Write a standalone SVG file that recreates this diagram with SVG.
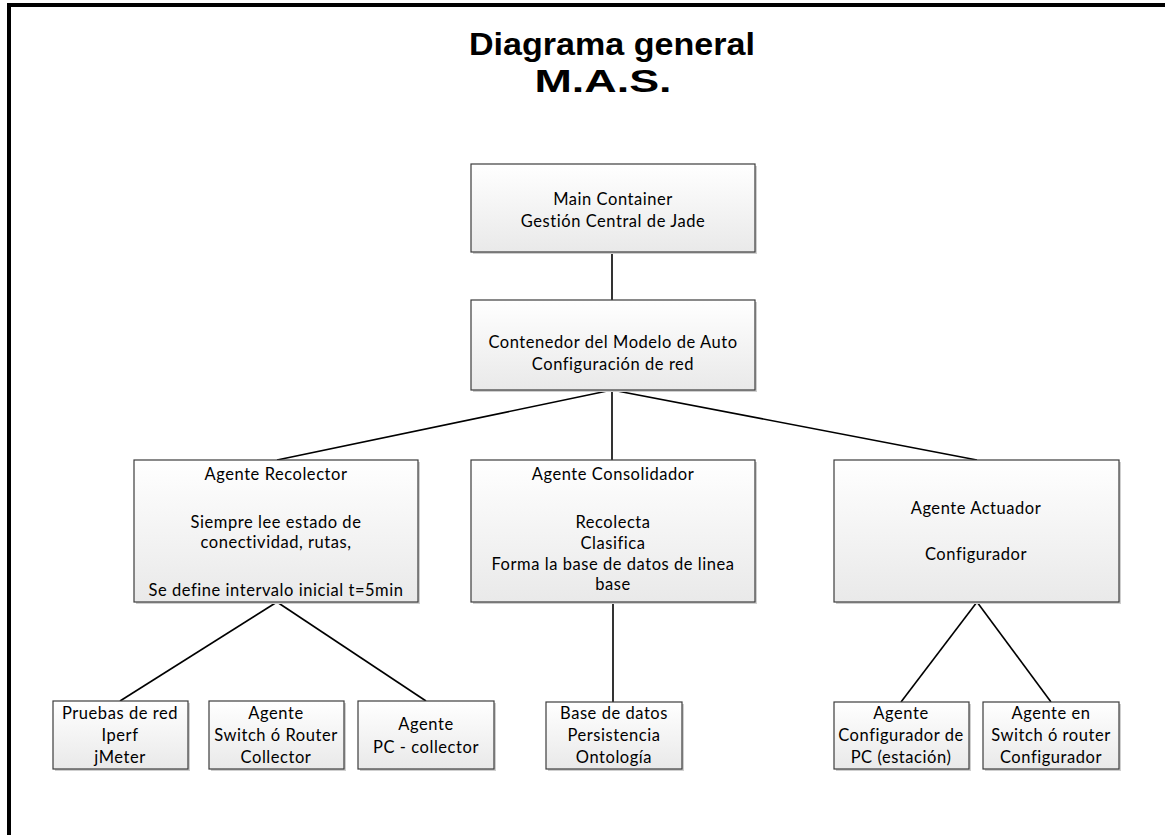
<svg xmlns="http://www.w3.org/2000/svg" width="1165" height="835" viewBox="0 0 1165 835">
  <defs>
    <linearGradient id="boxFill" x1="0" y1="0" x2="0" y2="1">
      <stop offset="0" stop-color="#ffffff"/>
      <stop offset="1" stop-color="#e9e9e9"/>
    </linearGradient>
    <style>
      .frame { fill: none; stroke: #000; stroke-width: 4; }
      .box { fill: url(#boxFill); stroke: #3c3c3c; stroke-width: 1.2; }
      .shadow { fill: #cfcfcf; }
      .link { stroke: #000; stroke-width: 1.6; fill: none; }
      .title { font-family: "Liberation Sans", Arial, sans-serif; font-weight: bold; font-size: 32px; fill: #000; text-anchor: middle; }
      .lbl { font-family: Lato, "Liberation Sans", sans-serif; font-size: 16.5px; letter-spacing: 0.55px; fill: #000; text-anchor: middle; }
    </style>
  </defs>

  <rect width="1165" height="835" fill="#fff"/>
  <!-- page frame (continues past the right and bottom edges) -->
  <rect class="frame" x="9" y="5" width="1200" height="900"/>

  <!-- title -->
  <g id="title">
    <text class="title" x="612" y="55" textLength="286" lengthAdjust="spacingAndGlyphs">Diagrama general</text>
    <text class="title" x="603" y="92" textLength="137" lengthAdjust="spacingAndGlyphs">M.A.S.</text>
  </g>

  <!-- connectors -->
  <g id="connectors">
    <line class="link" x1="612" y1="252" x2="612" y2="300"/>
    <line class="link" x1="612" y1="390" x2="277" y2="460"/>
    <line class="link" x1="612" y1="390" x2="612" y2="460"/>
    <line class="link" x1="612" y1="390" x2="977" y2="460"/>
    <line class="link" x1="277" y1="602" x2="120" y2="701"/>
    <line class="link" x1="277" y1="602" x2="426" y2="701"/>
    <line class="link" x1="613" y1="602" x2="613" y2="702"/>
    <line class="link" x1="977" y1="602" x2="901" y2="702"/>
    <line class="link" x1="977" y1="602" x2="1051" y2="702"/>
  </g>

  <g id="main-container">
    <rect class="shadow" x="473" y="166" width="284" height="88"/>
    <rect class="box" x="471" y="164" width="284" height="88"/>
    <text class="lbl" x="613" y="205">Main Container</text>
    <text class="lbl" x="613" y="227">Gestión Central de Jade</text>
  </g>

  <g id="contenedor-modelo">
    <rect class="shadow" x="473" y="302" width="284" height="90"/>
    <rect class="box" x="471" y="300" width="284" height="90"/>
    <text class="lbl" x="613" y="348">Contenedor del Modelo de Auto</text>
    <text class="lbl" x="613" y="370">Configuración de red</text>
  </g>

  <g id="agente-recolector">
    <rect class="shadow" x="136" y="462" width="284" height="142"/>
    <rect class="box" x="134" y="460" width="284" height="142"/>
    <text class="lbl" x="276" y="480">Agente Recolector</text>
    <text class="lbl" x="276" y="528">Siempre lee estado de</text>
    <text class="lbl" x="276" y="548">conectividad, rutas,</text>
    <text class="lbl" x="276" y="596">Se define intervalo inicial t=5min</text>
  </g>

  <g id="agente-consolidador">
    <rect class="shadow" x="473" y="462" width="284" height="142"/>
    <rect class="box" x="471" y="460" width="284" height="142"/>
    <text class="lbl" x="613" y="480">Agente Consolidador</text>
    <text class="lbl" x="613" y="528">Recolecta</text>
    <text class="lbl" x="613" y="549">Clasifica</text>
    <text class="lbl" x="613" y="570">Forma la base de datos de linea</text>
    <text class="lbl" x="613" y="590">base</text>
  </g>

  <g id="agente-actuador">
    <rect class="shadow" x="836" y="462" width="285" height="142"/>
    <rect class="box" x="834" y="460" width="285" height="142"/>
    <text class="lbl" x="976" y="514">Agente Actuador</text>
    <text class="lbl" x="976" y="560">Configurador</text>
  </g>

  <g id="pruebas-red">
    <rect class="shadow" x="55" y="703" width="135" height="68"/>
    <rect class="box" x="53" y="701" width="135" height="68"/>
    <text class="lbl" x="120" y="719">Pruebas de red</text>
    <text class="lbl" x="120" y="741">Iperf</text>
    <text class="lbl" x="120" y="763">jMeter</text>
  </g>

  <g id="agente-switch-collector">
    <rect class="shadow" x="211" y="703" width="135" height="68"/>
    <rect class="box" x="209" y="701" width="135" height="68"/>
    <text class="lbl" x="276" y="719">Agente</text>
    <text class="lbl" x="276" y="741">Switch ó Router</text>
    <text class="lbl" x="276" y="763">Collector</text>
  </g>

  <g id="agente-pc-collector">
    <rect class="shadow" x="360" y="703" width="136" height="68"/>
    <rect class="box" x="358" y="701" width="136" height="68"/>
    <text class="lbl" x="426" y="730">Agente</text>
    <text class="lbl" x="426" y="753">PC - collector</text>
  </g>

  <g id="base-datos">
    <rect class="shadow" x="548" y="704" width="136" height="67"/>
    <rect class="box" x="546" y="702" width="136" height="67"/>
    <text class="lbl" x="614" y="719">Base de datos</text>
    <text class="lbl" x="614" y="741">Persistencia</text>
    <text class="lbl" x="614" y="763">Ontología</text>
  </g>

  <g id="agente-configurador-pc">
    <rect class="shadow" x="836" y="704" width="135" height="67"/>
    <rect class="box" x="834" y="702" width="135" height="67"/>
    <text class="lbl" x="901" y="719">Agente</text>
    <text class="lbl" x="901" y="741">Configurador de</text>
    <text class="lbl" x="901" y="763">PC (estación)</text>
  </g>

  <g id="agente-switch-configurador">
    <rect class="shadow" x="985" y="704" width="136" height="67"/>
    <rect class="box" x="983" y="702" width="136" height="67"/>
    <text class="lbl" x="1051" y="719">Agente en</text>
    <text class="lbl" x="1051" y="741">Switch ó router</text>
    <text class="lbl" x="1051" y="763">Configurador</text>
  </g>
</svg>
